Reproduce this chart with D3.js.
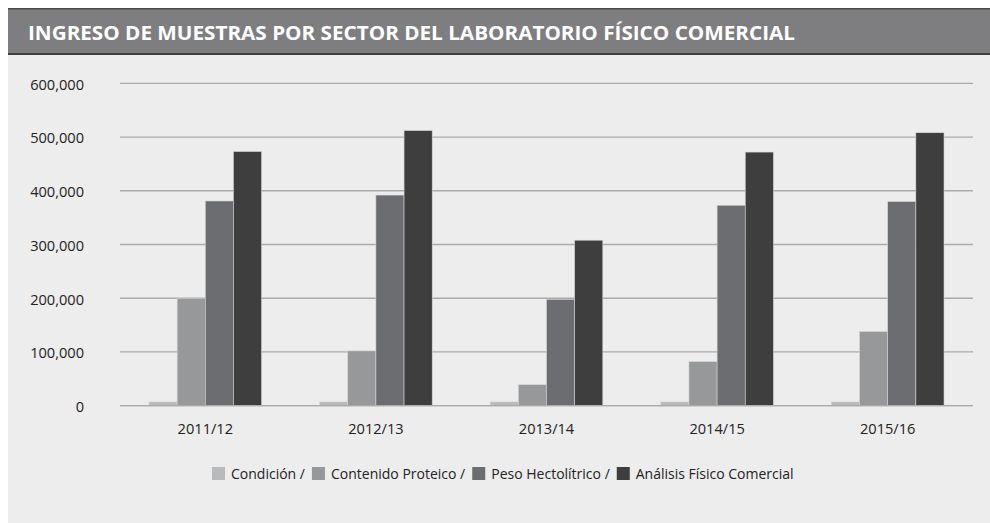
<!DOCTYPE html>
<html>
<head>
<meta charset="utf-8">
<script src="https://cdn.jsdelivr.net/npm/d3@7"></script>
<style>
  body { margin: 0; background: #fff; }
  svg text { font-family: "Open Sans", sans-serif; }
</style>
</head>
<body>
<div class="canvas"></div>
<script>
// data
const seasons = ["2011/12", "2012/13", "2013/14", "2014/15", "2015/16"];
const series = ["Condición", "Contenido Proteico", "Peso Hectolítrico", "Análisis Físico Comercial"];
const condicion = [7000, 7000, 7000, 7000, 7000];
const contenido = [200000, 102000, 39000, 82000, 138000];
const peso = [381000, 392000, 198000, 373000, 380000];
const analisis = [473000, 512000, 308000, 472000, 508000];
const yTicks = [0, 100000, 200000, 300000, 400000, 500000, 600000];
const colors = ["#b9babc", "#97989a", "#6c6d70", "#3e3e3e"];

const values = [condicion, contenido, peso, analisis];
const rows = seasons.map((s, i) => ({ season: s, vals: values.map(v => v[i]) }));

const svg = d3.select(".canvas").append("svg")
  .attr("width", 990)
  .attr("height", 523);

// background panel
svg.append("rect")
  .attr("x", 8).attr("y", 55)
  .attr("width", 982).attr("height", 468)
  .attr("fill", "#ededed");

// title bar
svg.append("rect")
  .attr("x", 8).attr("y", 8)
  .attr("width", 982).attr("height", 47)
  .attr("fill", "#7e7e80");
svg.append("line")
  .attr("x1", 8).attr("x2", 990).attr("y1", 8.75).attr("y2", 8.75)
  .attr("stroke", "#4a4a4a").attr("stroke-width", 1.5);
svg.append("line")
  .attr("x1", 8).attr("x2", 990).attr("y1", 54).attr("y2", 54)
  .attr("stroke", "#3f3f3f").attr("stroke-width", 2);
svg.append("text")
  .attr("x", 28).attr("y", 40)
  .attr("fill", "#fff")
  .attr("font-size", 20)
  .attr("font-weight", "bold")
  .attr("textLength", 767)
  .attr("lengthAdjust", "spacingAndGlyphs")
  .text("INGRESO DE MUESTRAS POR SECTOR DEL LABORATORIO FÍSICO COMERCIAL");

// scales
const x = d3.scaleBand().domain(seasons).range([120, 973]).paddingInner(0).paddingOuter(0);
const y = d3.scaleLinear().domain([0, 600000]).range([405.7, 83.3]);
const inner = d3.scaleBand().domain(d3.range(4)).range([29, x.bandwidth() - 29]);

// gridlines
svg.append("g")
  .selectAll("line")
  .data(yTicks)
  .join("line")
  .attr("x1", 120).attr("x2", 973)
  .attr("y1", d => y(d)).attr("y2", d => y(d))
  .attr("stroke", "#ababab")
  .attr("stroke-width", 1.3);

// y axis labels
const yAxis = svg.append("g")
  .attr("transform", "translate(84,0)")
  .call(d3.axisLeft(y).tickValues(yTicks).tickSize(0).tickPadding(0)
    .tickFormat(d3.format(",")));
yAxis.select(".domain").remove();
yAxis.selectAll("text")
  .attr("font-size", 14.6)
  .attr("fill", "#222")
  .attr("dy", "0.4em")
  .style("font-family", "'Open Sans', sans-serif");

// bars
const groups = svg.append("g")
  .selectAll("g")
  .data(rows)
  .join("g")
  .attr("transform", d => `translate(${x(d.season)},0)`);

groups.selectAll("rect")
  .data(d => d.vals)
  .join("rect")
  .attr("x", (d, i) => inner(i))
  .attr("width", inner.bandwidth())
  .attr("y", d => y(d))
  .attr("height", d => y(0) - y(d))
  .attr("fill", (d, i) => colors[i])
  .attr("stroke", "#d4d4d4")
  .attr("stroke-width", 0.6);

// baseline
svg.append("line")
  .attr("x1", 120).attr("x2", 973)
  .attr("y1", y(0)).attr("y2", y(0))
  .attr("stroke", "#ababab")
  .attr("stroke-width", 1.3);

// x axis labels
const xAxis = svg.append("g")
  .attr("transform", `translate(0,${y(0)})`)
  .call(d3.axisBottom(x).tickSize(0).tickPadding(0));
xAxis.select(".domain").remove();
xAxis.selectAll("text")
  .attr("font-size", 14.6)
  .attr("fill", "#222")
  .attr("y", 28.3)
  .attr("dy", 0)
  .style("font-family", "'Open Sans', sans-serif");

// legend
const legend = svg.append("g").attr("transform", "translate(212,467)");
let lx = 0;
series.forEach((s, i) => {
  const g = legend.append("g").attr("transform", `translate(${lx},0)`);
  g.append("rect")
    .attr("x", 0).attr("y", 0)
    .attr("width", 13).attr("height", 13)
    .attr("fill", colors[i]);
  const t = g.append("text")
    .attr("x", 19).attr("y", 11.5)
    .attr("font-size", 14)
    .attr("fill", "#222")
    .text(i < series.length - 1 ? s + " /" : s);
  lx += 19 + t.node().getComputedTextLength() + 7;
});
</script>
</body>
</html>
